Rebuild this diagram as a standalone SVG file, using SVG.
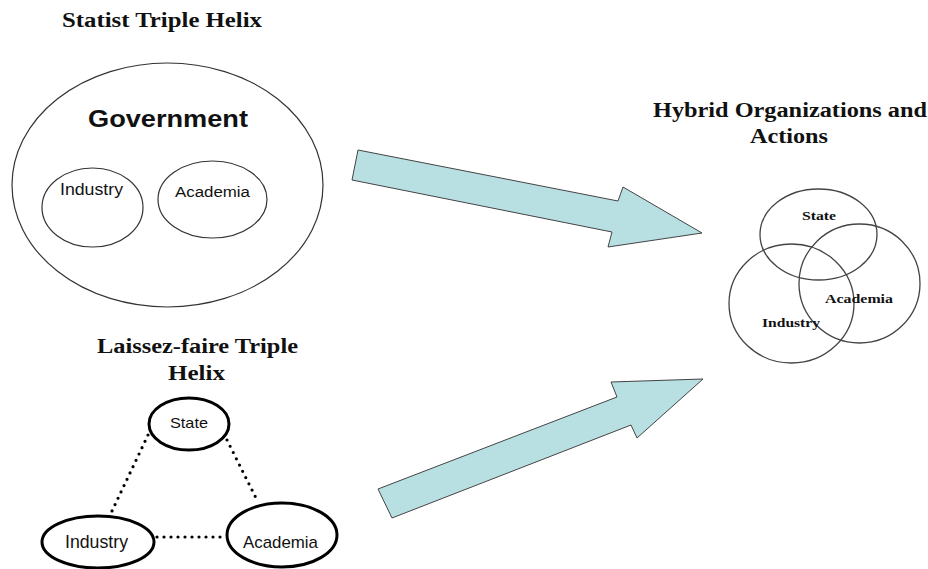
<svg xmlns="http://www.w3.org/2000/svg" width="928" height="569" viewBox="0 0 928 569">
<style>
.title{font-family:"Liberation Serif","Times New Roman",serif;font-weight:bold;font-size:20px;fill:#111}
.sans{font-family:"Liberation Sans",Arial,sans-serif;fill:#111}
.thin{fill:none;stroke:#333;stroke-width:1.2}
.thick{fill:#fff;stroke:#000;stroke-width:3}
.venn{fill:none;stroke:#444;stroke-width:1.3}
.vtxt{font-family:"Liberation Serif","Times New Roman",serif;font-weight:bold;font-size:13px;fill:#111}
.arrow{fill:#b8dfe2;stroke:#444;stroke-width:1}
.dot{stroke:#000;stroke-width:3.2;stroke-linecap:round;stroke-dasharray:0 7;fill:none}
</style>
<rect width="928" height="569" fill="#fff"/>

<g id="statist">
<text class="title" x="62" y="27" textLength="200" lengthAdjust="spacingAndGlyphs">Statist Triple Helix</text>
<ellipse class="thin" cx="167.5" cy="185" rx="155.5" ry="122"/>
<text class="sans" x="88" y="127" font-size="24" font-weight="bold" textLength="160" lengthAdjust="spacingAndGlyphs">Government</text>
</g>
<g id="statist-industry">
<ellipse class="thin" cx="92.5" cy="207.5" rx="50.5" ry="39.5"/>
<text class="sans" x="60" y="195" font-size="16" textLength="63" lengthAdjust="spacingAndGlyphs">Industry</text>
</g>
<g id="statist-academia">
<ellipse class="thin" cx="212.5" cy="199.5" rx="54.5" ry="38.5"/>
<text class="sans" x="175" y="197" font-size="15.5" textLength="75" lengthAdjust="spacingAndGlyphs">Academia</text>
</g>

<g id="hybrid">
<text class="title" x="653" y="117" textLength="274" lengthAdjust="spacingAndGlyphs">Hybrid Organizations and</text>
<text class="title" x="750" y="143" textLength="78" lengthAdjust="spacingAndGlyphs">Actions</text>
<ellipse class="venn" cx="818.5" cy="234.5" rx="58.5" ry="45.5"/>
<ellipse class="venn" cx="859.5" cy="283.5" rx="60.5" ry="59.5"/>
<ellipse class="venn" cx="791.5" cy="303.5" rx="62.5" ry="59.5"/>
<text class="vtxt" x="802" y="220" textLength="34" lengthAdjust="spacingAndGlyphs">State</text>
<text class="vtxt" x="825" y="303" textLength="68" lengthAdjust="spacingAndGlyphs">Academia</text>
<text class="vtxt" x="762" y="327" textLength="58" lengthAdjust="spacingAndGlyphs">Industry</text>
</g>

<g id="laissez-title">
<text class="title" x="97" y="353" textLength="201" lengthAdjust="spacingAndGlyphs">Laissez-faire Triple</text>
<text class="title" x="168" y="380" textLength="57" lengthAdjust="spacingAndGlyphs">Helix</text>
</g>

<g id="connectors">
<polygon class="arrow" points="358,150 618,201 623,187 702,233 608,247 612,232 352,180"/>
<polygon class="arrow" points="378,489 617,397 611,382 703,379 637,438 631,425 392,518"/>
<path class="dot" d="M148,435 L112,511"/>
<path class="dot" d="M227,440 L258,502"/>
<path class="dot" d="M157,537 L227,537"/>
</g>

<g id="lf-state">
<ellipse class="thick" cx="189" cy="424" rx="40" ry="26"/>
<text class="sans" x="170" y="428" font-size="15" textLength="38" lengthAdjust="spacingAndGlyphs">State</text>
</g>
<g id="lf-industry">
<ellipse class="thick" cx="98" cy="542" rx="56" ry="26"/>
<text class="sans" x="65" y="548" font-size="17.5" textLength="63" lengthAdjust="spacingAndGlyphs">Industry</text>
</g>
<g id="lf-academia">
<ellipse class="thick" cx="282" cy="535" rx="55" ry="32"/>
<text class="sans" x="243" y="548" font-size="17" textLength="75" lengthAdjust="spacingAndGlyphs">Academia</text>
</g>
</svg>
